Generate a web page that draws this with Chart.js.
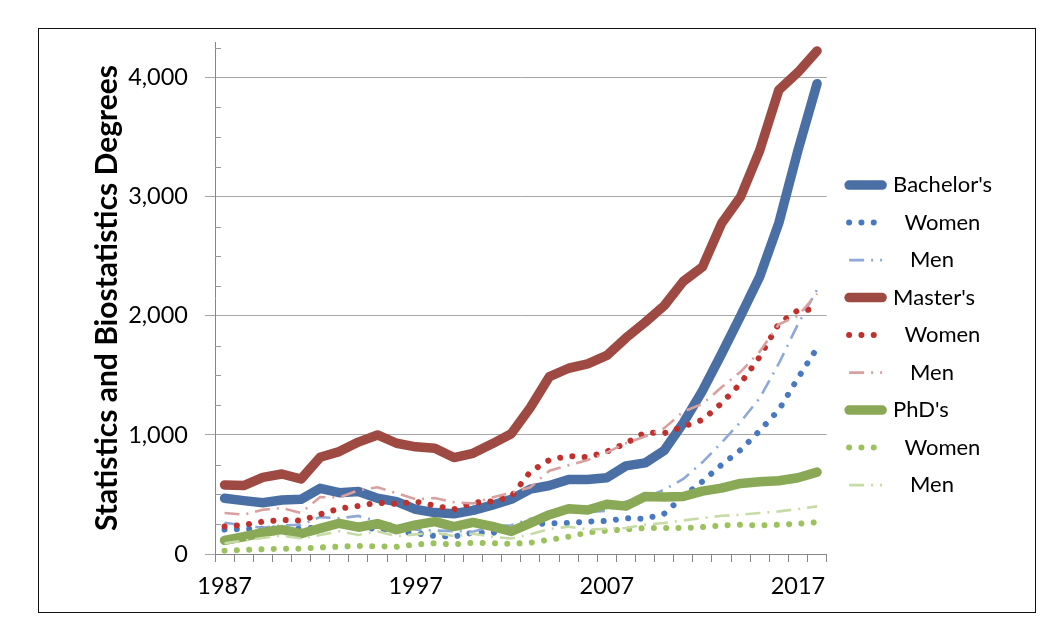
<!DOCTYPE html>
<html>
<head>
<meta charset="utf-8">
<script src="https://cdn.jsdelivr.net/npm/chart.js@4.4.0/dist/chart.umd.min.js"></script>
<style>
  html, body { margin: 0; padding: 0; background: #fff; }
  #wrap { position: relative; width: 1060px; height: 634px; }
  #degreesChart { display: block; }
  #frame { position: absolute; left: 38px; top: 28px; width: 996px; height: 583px; border: 1.5px solid #111; pointer-events: none; }
</style>
</head>
<body>
<div id="wrap">
  <canvas id="degreesChart" width="1060" height="634"></canvas>
  <div id="frame"></div>
</div>
<script>
// years on the x axis
const years = ['1987', '1988', '1989', '1990', '1991', '1992', '1993', '1994', '1995', '1996',
  '1997', '1998', '1999', '2000', '2001', '2002', '2003', '2004', '2005', '2006',
  '2007', '2008', '2009', '2010', '2011', '2012', '2013', '2014', '2015', '2016',
  '2017', '2018'];

// labelled ticks on the value axis, and the small unlabelled ones between them
const yMajorTicks = [0, 1000, 2000, 3000, 4000];
const yMinorTicks = [250, 500, 750, 1250, 1500, 1750, 2250, 2500, 2750, 3250, 3500, 3750, 4250];

// degrees per year
const bachelors = [468, 448, 431, 454, 459, 552, 515, 524, 468, 440, 375, 348, 338, 366, 410, 460,
  545, 575, 625, 625, 640, 740, 765, 870, 1100, 1370, 1680, 2000, 2330, 2780, 3390, 3950];
const bachelorsWomen = [205, 210, 212, 215, 212, 225, 245, 235, 205, 190, 174, 151, 146, 179, 176, 218,
  250, 258, 260, 272, 278, 300, 296, 338, 483, 609, 749, 874, 1036, 1210, 1478, 1730];
const bachelorsMen = [263, 240, 220, 240, 245, 310, 300, 320, 275, 245, 205, 197, 192, 187, 234, 242,
  295, 317, 360, 353, 362, 440, 470, 540, 630, 770, 935, 1110, 1310, 1600, 1930, 2220];

const masters = [580, 575, 644, 672, 630, 812, 860, 940, 1000, 930, 900, 888, 810, 846, 925, 1010,
  1230, 1490, 1560, 1597, 1668, 1815, 1945, 2085, 2290, 2410, 2775, 3000, 3390, 3897, 4045, 4225];
const mastersWomen = [230, 244, 272, 286, 280, 333, 381, 403, 431, 420, 440, 406, 375, 431, 442, 482,
  692, 790, 823, 812, 860, 930, 1020, 1014, 1070, 1126, 1265, 1433, 1656, 1936, 2047, 2055];
const mastersMen = [345, 330, 372, 386, 345, 478, 475, 535, 560, 510, 460, 470, 435, 425, 475, 515,
  560, 700, 745, 790, 852, 930, 986, 1056, 1196, 1260, 1400, 1530, 1700, 1930, 2000, 2187];

const phds = [115, 145, 180, 205, 170, 215, 258, 225, 255, 205, 245, 272, 230, 265, 232, 190,
  260, 330, 380, 370, 418, 402, 483, 478, 483, 528, 553, 593, 606, 615, 640, 688];
const phdsWomen = [28, 34, 40, 45, 45, 55, 62, 67, 65, 60, 80, 90, 80, 95, 90, 85,
  95, 120, 145, 180, 196, 207, 218, 218, 218, 226, 240, 246, 240, 246, 254, 268];
const phdsMen = [90, 112, 135, 155, 130, 160, 190, 160, 190, 150, 165, 180, 150, 170, 145, 130,
  165, 210, 230, 205, 212, 218, 246, 260, 282, 302, 321, 330, 344, 358, 377, 400];

const FONT = 'Lato, "Open Sans", sans-serif';

function solid(label, data, color) {
  return { label, data, borderColor: color, backgroundColor: color, borderWidth: 9.5,
    borderCapStyle: 'round', borderJoinStyle: 'round' };
}
function dotted(label, data, color) {
  return { label, data, borderColor: color, backgroundColor: color, borderWidth: 6,
    borderDash: [0.01, 12.3], borderCapStyle: 'round', borderJoinStyle: 'round' };
}
function dashDot(label, data, color) {
  return { label, data, borderColor: color, backgroundColor: color, borderWidth: 2.6,
    borderDash: [15, 7, 2, 7], borderCapStyle: 'butt' };
}

// legend order top to bottom; later series are painted on top
const series = [
  solid("Bachelor's", bachelors, '#4a6fa5'),
  dotted('  Women', bachelorsWomen, '#4878bf'),
  dashDot('   Men', bachelorsMen, '#8ea9d8'),
  solid("Master's", masters, '#9e4a43'),
  dotted('  Women', mastersWomen, '#c0302c'),
  dashDot('   Men', mastersMen, '#d9a0a0'),
  solid("PhD's", phds, '#8aa956'),
  dotted('  Women', phdsWomen, '#9cc25e'),
  dashDot('   Men', phdsMen, '#c7dba6'),
];

// small tick marks inside the value axis
const minorTicks = {
  id: 'minorTicks',
  beforeDatasetsDraw(chart) {
    const y = chart.scales.y;
    const ctx = chart.ctx;
    ctx.save();
    ctx.strokeStyle = '#9a9a9a';
    ctx.lineWidth = 1;
    yMinorTicks.forEach((v) => {
      const py = Math.round(y.getPixelForValue(v)) + 0.5;
      ctx.beginPath();
      ctx.moveTo(y.right, py);
      ctx.lineTo(y.right + 6, py);
      ctx.stroke();
    });
    ctx.restore();
  }
};

// nudge the legend a little away from the plot
const legendNudge = {
  id: 'legendNudge',
  afterLayout(chart) {
    chart.legend.left += 7;
    chart.legend.right += 7;
  }
};

new Chart(document.getElementById('degreesChart'), {
  type: 'line',
  data: {
    labels: years,
    datasets: series.slice().reverse(),
  },
  plugins: [minorTicks, legendNudge],
  options: {
    responsive: false,
    animation: false,
    layout: { padding: { left: 80, right: 65, top: 42, bottom: 18 } },
    elements: { point: { radius: 0, hoverRadius: 0 }, line: { tension: 0 } },
    plugins: {
      tooltip: { enabled: false },
      legend: {
        position: 'right',
        reverse: true,
        maxWidth: 170,
        title: { display: true, text: '', font: { size: 1 }, padding: { top: 11, bottom: 0 } },
        labels: {
          usePointStyle: true,
          pointStyle: 'line',
          pointStyleWidth: 33,
          padding: 15.5,
          color: '#000',
          font: { family: FONT, size: 22 },
          generateLabels(chart) {
            const items = Chart.defaults.plugins.legend.labels.generateLabels(chart);
            items.forEach((item) => {
              const ds = chart.data.datasets[item.datasetIndex];
              item.lineWidth = ds.borderWidth;
              item.lineDash = ds.borderDash || [];
              item.lineCap = ds.borderCapStyle;
              item.strokeStyle = ds.borderColor;
            });
            return items;
          },
        },
      },
    },
    scales: {
      x: {
        offset: true,
        border: { color: '#868686' },
        grid: { offset: true, drawOnChartArea: false, drawTicks: true, tickLength: 8, color: '#868686' },
        ticks: {
          autoSkip: false,
          maxRotation: 0,
          padding: 10,
          color: '#000',
          font: { family: FONT, size: 23.5 },
          callback(value, index) {
            return index % 10 === 0 ? this.getLabelForValue(value) : '';
          },
        },
        afterFit(scale) { scale.height = 62; },
      },
      y: {
        min: 0,
        max: 4300,
        border: { color: '#868686' },
        grid: { color: '#a6a6a6', tickLength: 10 },
        afterBuildTicks(scale) {
          scale.ticks = yMajorTicks.map((v) => ({ value: v }));
        },
        ticks: {
          autoSkip: false,
          padding: 17,
          color: '#000',
          font: { family: FONT, size: 23.5 },
          callback: (v) => v.toLocaleString('en-US'),
        },
        title: {
          display: true,
          text: 'Statistics and Biostatistics Degrees',
          color: '#000',
          font: { family: FONT, size: 30, weight: 'bold' },
          padding: { top: 9, bottom: 0 },
        },
        afterFit(scale) { scale.width = 135; },
      },
    },
  },
});
</script>
</body>
</html>
